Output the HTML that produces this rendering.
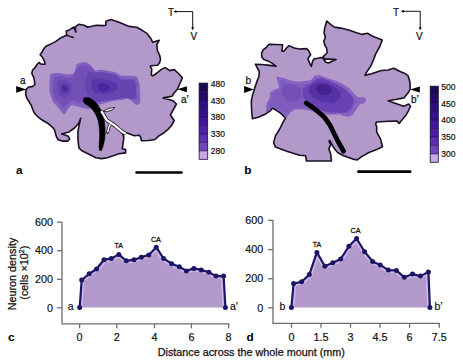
<!DOCTYPE html>
<html><head><meta charset="utf-8"><title>Neuron density maps</title><style>
html,body{margin:0;padding:0;background:#fff;}
body{width:463px;height:363px;overflow:hidden;}
svg{display:block;font-family:"Liberation Sans",sans-serif;}
.tk{font-size:10.8px;fill:#111;stroke:#111;stroke-width:0.2px;}
.lb{font-size:10.5px;fill:#111;stroke:#111;stroke-width:0.2px;}
.pk{font-size:8px;fill:#111;stroke:#111;stroke-width:0.3px;}
.pl{font-size:11.8px;font-weight:bold;fill:#000;}
.al{font-size:10px;fill:#111;stroke:#111;stroke-width:0.25px;}
.cp{font-size:10px;fill:#111;stroke:#111;stroke-width:0.2px;}
.cb{font-size:8.5px;fill:#111;stroke:#111;stroke-width:0.2px;}
.xt{font-size:10.8px;fill:#111;stroke:#111;stroke-width:0.25px;}
</style></head>
<body>
<svg width="463" height="363" viewBox="0 0 463 363">
<defs><filter id="bl" x="-10%" y="-10%" width="120%" height="120%"><feGaussianBlur stdDeviation="0.7"/></filter></defs>
<rect width="463" height="363" fill="#fff"/>
<polygon points="26.2,89.4 28.3,87.3 32.6,86.4 34.8,84.7 34.4,80.4 33.5,76.9 31.8,73.5 32.6,70.0 34.6,68.1 36.8,64.8 39.0,62.5 41.2,64.2 45.1,64.2 44.5,61.4 42.3,57.0 40.1,54.8 41.8,52.6 43.4,49.3 46.2,46.0 50.0,44.4 55.5,41.6 60.0,38.3 66.6,35.2 66.3,30.9 69.3,29.9 73.6,27.1 75.9,32.1 75.2,27.0 78.7,24.3 84.2,25.2 87.6,27.3 96.3,25.2 103.2,25.6 105.8,25.2 105.8,21.2 111.0,19.5 119.6,22.4 129.1,26.4 136.6,27.2 142.1,30.3 146.5,33.1 150.9,38.5 152.6,42.2 159.3,40.2 156.8,44.5 157.5,50.8 159.6,55.0 160.5,59.4 159.6,62.8 157.6,65.2 150.8,65.7 150.3,66.7 151.8,69.1 151.3,74.9 152.8,75.9 157.6,72.5 161.0,69.6 164.9,67.6 166.9,68.6 169.8,70.6 174.2,69.6 178.0,73.0 182.4,77.8 180.0,83.2 177.4,89.3 173.7,93.5 172.0,96.3 163.2,97.9 170.9,100.1 173.7,101.2 176.4,104.0 173.1,110.0 170.4,115.0 174.2,120.5 171.5,125.5 168.0,129.4 164.1,132.7 158.9,135.9 155.0,139.5 148.5,140.5 141.4,140.8 140.7,137.2 139.4,135.3 134.3,135.7 127.8,133.3 124.5,132.2 122.5,133.6 123.9,137.2 123.1,143.0 122.3,148.8 125.6,149.6 125.6,152.9 118.9,153.8 107.3,157.7 101.6,158.6 95.8,157.7 90.0,154.8 81.8,150.8 78.9,147.9 78.0,140.0 78.0,130.8 79.4,123.9 80.7,118.4 78.7,123.2 74.5,128.0 69.0,131.9 61.5,133.9 64.9,134.9 68.3,136.3 69.7,139.0 67.7,141.1 62.2,141.1 58.0,139.7 56.0,135.6 54.6,130.1 52.5,127.3 47.7,123.2 42.9,120.5 38.8,117.7 35.3,114.3 33.3,110.8 31.2,105.3 28.4,100.5 27.9,100.0 26.6,97.6 25.7,94.2" fill="#b399c9"/>
<clipPath id="ca"><polygon points="26.2,89.4 28.3,87.3 32.6,86.4 34.8,84.7 34.4,80.4 33.5,76.9 31.8,73.5 32.6,70.0 34.6,68.1 36.8,64.8 39.0,62.5 41.2,64.2 45.1,64.2 44.5,61.4 42.3,57.0 40.1,54.8 41.8,52.6 43.4,49.3 46.2,46.0 50.0,44.4 55.5,41.6 60.0,38.3 66.6,35.2 66.3,30.9 69.3,29.9 73.6,27.1 75.9,32.1 75.2,27.0 78.7,24.3 84.2,25.2 87.6,27.3 96.3,25.2 103.2,25.6 105.8,25.2 105.8,21.2 111.0,19.5 119.6,22.4 129.1,26.4 136.6,27.2 142.1,30.3 146.5,33.1 150.9,38.5 152.6,42.2 159.3,40.2 156.8,44.5 157.5,50.8 159.6,55.0 160.5,59.4 159.6,62.8 157.6,65.2 150.8,65.7 150.3,66.7 151.8,69.1 151.3,74.9 152.8,75.9 157.6,72.5 161.0,69.6 164.9,67.6 166.9,68.6 169.8,70.6 174.2,69.6 178.0,73.0 182.4,77.8 180.0,83.2 177.4,89.3 173.7,93.5 172.0,96.3 163.2,97.9 170.9,100.1 173.7,101.2 176.4,104.0 173.1,110.0 170.4,115.0 174.2,120.5 171.5,125.5 168.0,129.4 164.1,132.7 158.9,135.9 155.0,139.5 148.5,140.5 141.4,140.8 140.7,137.2 139.4,135.3 134.3,135.7 127.8,133.3 124.5,132.2 122.5,133.6 123.9,137.2 123.1,143.0 122.3,148.8 125.6,149.6 125.6,152.9 118.9,153.8 107.3,157.7 101.6,158.6 95.8,157.7 90.0,154.8 81.8,150.8 78.9,147.9 78.0,140.0 78.0,130.8 79.4,123.9 80.7,118.4 78.7,123.2 74.5,128.0 69.0,131.9 61.5,133.9 64.9,134.9 68.3,136.3 69.7,139.0 67.7,141.1 62.2,141.1 58.0,139.7 56.0,135.6 54.6,130.1 52.5,127.3 47.7,123.2 42.9,120.5 38.8,117.7 35.3,114.3 33.3,110.8 31.2,105.3 28.4,100.5 27.9,100.0 26.6,97.6 25.7,94.2"/></clipPath><g clip-path="url(#ca)"><g filter="url(#bl)">
<polygon points="50.4,74.0 58.0,72.7 66.6,74.4 73.1,74.0 75.2,70.1 76.3,64.7 80.6,62.6 85.6,62.1 90.4,64.7 94.7,70.1 96.1,70.5 101.1,69.8 109.5,71.2 115.1,71.9 120.7,75.4 127.7,75.7 134.8,76.1 137.6,77.5 139.7,84.6 139.8,88.2 140.4,101.2 139.3,103.9 136.0,105.0 130.6,100.1 127.4,98.5 122.0,100.1 113.4,100.7 108.0,102.3 101.5,103.9 96.0,105.5 93.0,108.0 88.0,109.0 82.0,107.8 76.6,106.2 71.2,105.1 68.0,108.9 64.8,114.6 63.6,114.6 59.3,108.9 55.0,104.0 52.6,101.4 49.8,92.8 49.3,83.1" fill="#8262c0"/>
<polygon points="54.0,77.0 62.0,76.0 68.0,78.0 73.0,77.0 76.0,70.0 80.0,66.0 86.0,65.5 91.0,68.0 96.0,73.0 102.0,73.0 110.0,74.0 116.0,75.0 121.0,78.5 129.0,79.0 135.0,79.5 137.0,85.0 136.5,91.0 137.5,99.0 133.0,99.5 127.0,96.0 121.0,95.5 111.0,96.0 102.0,98.5 96.0,101.0 90.0,103.0 85.0,100.5 80.0,102.5 74.0,100.5 70.0,101.5 66.0,106.0 62.5,108.0 59.0,103.0 54.5,98.0 52.5,91.0 52.5,83.0" fill="#7450b8"/>
<polygon points="58.0,81.0 65.0,80.0 71.0,83.0 72.0,89.0 70.0,95.0 65.0,98.0 60.0,96.0 57.0,90.0" fill="#6644b0"/>
<polygon points="88.0,72.0 96.0,72.5 103.0,72.0 110.0,73.5 117.0,76.0 121.0,80.0 128.0,80.0 134.0,80.0 136.0,86.0 135.5,95.0 133.0,99.5 126.0,98.0 118.0,99.0 110.0,100.0 102.0,101.5 95.0,102.5 89.0,100.0 86.0,92.0 85.0,82.0" fill="#6644b0"/>
<polygon points="61.0,85.0 65.0,84.0 68.5,86.0 69.0,90.0 66.5,93.0 63.0,93.0 60.5,90.0" fill="#5834a8"/>
<polygon points="92.0,80.0 100.0,78.5 108.0,80.0 116.0,83.0 118.0,88.0 113.0,92.0 104.0,94.0 96.0,93.0 91.0,88.0" fill="#5834a8"/>
<polygon points="63.0,87.0 66.0,86.5 67.5,89.0 65.5,91.0 63.5,90.5" fill="#4a26a0"/>
<polygon points="98.0,84.0 104.0,83.0 110.0,85.5 109.0,90.0 103.0,91.5 98.0,89.5" fill="#4a26a0"/>
</g></g>
<polygon points="26.2,89.4 28.3,87.3 32.6,86.4 34.8,84.7 34.4,80.4 33.5,76.9 31.8,73.5 32.6,70.0 34.6,68.1 36.8,64.8 39.0,62.5 41.2,64.2 45.1,64.2 44.5,61.4 42.3,57.0 40.1,54.8 41.8,52.6 43.4,49.3 46.2,46.0 50.0,44.4 55.5,41.6 60.0,38.3 66.6,35.2 66.3,30.9 69.3,29.9 73.6,27.1 75.9,32.1 75.2,27.0 78.7,24.3 84.2,25.2 87.6,27.3 96.3,25.2 103.2,25.6 105.8,25.2 105.8,21.2 111.0,19.5 119.6,22.4 129.1,26.4 136.6,27.2 142.1,30.3 146.5,33.1 150.9,38.5 152.6,42.2 159.3,40.2 156.8,44.5 157.5,50.8 159.6,55.0 160.5,59.4 159.6,62.8 157.6,65.2 150.8,65.7 150.3,66.7 151.8,69.1 151.3,74.9 152.8,75.9 157.6,72.5 161.0,69.6 164.9,67.6 166.9,68.6 169.8,70.6 174.2,69.6 178.0,73.0 182.4,77.8 180.0,83.2 177.4,89.3 173.7,93.5 172.0,96.3 163.2,97.9 170.9,100.1 173.7,101.2 176.4,104.0 173.1,110.0 170.4,115.0 174.2,120.5 171.5,125.5 168.0,129.4 164.1,132.7 158.9,135.9 155.0,139.5 148.5,140.5 141.4,140.8 140.7,137.2 139.4,135.3 134.3,135.7 127.8,133.3 124.5,132.2 122.5,133.6 123.9,137.2 123.1,143.0 122.3,148.8 125.6,149.6 125.6,152.9 118.9,153.8 107.3,157.7 101.6,158.6 95.8,157.7 90.0,154.8 81.8,150.8 78.9,147.9 78.0,140.0 78.0,130.8 79.4,123.9 80.7,118.4 78.7,123.2 74.5,128.0 69.0,131.9 61.5,133.9 64.9,134.9 68.3,136.3 69.7,139.0 67.7,141.1 62.2,141.1 58.0,139.7 56.0,135.6 54.6,130.1 52.5,127.3 47.7,123.2 42.9,120.5 38.8,117.7 35.3,114.3 33.3,110.8 31.2,105.3 28.4,100.5 27.9,100.0 26.6,97.6 25.7,94.2" fill="none" stroke="#1a1024" stroke-width="1.6" stroke-linejoin="round"/>
<path d="M66.4,35.1 L73.2,37.5" stroke="#1a1024" stroke-width="1.5" stroke-linecap="round"/>
<polygon points="84.0,97.8 88.0,97.6 92.0,99.2 95.5,102.0 98.5,106.0 101.0,110.0 102.8,115.0 104.3,121.0 105.0,127.0 105.2,133.0 104.6,140.0 103.2,146.0 101.5,150.5 99.4,150.5 99.0,146.0 99.4,140.0 99.6,133.0 99.2,127.0 98.2,121.0 96.6,116.5 94.5,112.5 91.5,108.5 88.0,105.5 84.8,103.8 83.4,101.5 83.2,99.5" fill="#000" stroke="#000" stroke-width="0.5" stroke-linejoin="round"/>
<path d="M101.2,111.2 L103.2,114 L105,117.5 L107.2,120.6 L110.8,122.8 L114.6,125.4 L118.2,128.4 L122,131.6 L125.8,133.8" fill="none" stroke="#1a1024" stroke-width="3.8" stroke-linejoin="round"/>
<path d="M110.5,123.5 L108.6,127.8 L107.6,132.4" fill="none" stroke="#1a1024" stroke-width="2.9" stroke-linecap="round"/>
<path d="M101.2,111.2 L103.2,114 L105,117.5 L107.2,120.6 L110.8,122.8 L114.6,125.4 L118.2,128.4 L122,131.6 L125.8,133.8" fill="none" stroke="#fff" stroke-width="2.2" stroke-linejoin="round"/>
<path d="M110.3,124 L108.6,127.8 L107.8,131.8" fill="none" stroke="#fff" stroke-width="1.5" stroke-linecap="round"/>
<path d="M103,111.6 C106,109 110,107.6 114.8,107.6 C112,110.8 107.5,112 103,111.6 Z" fill="#fff" stroke="#1a1024" stroke-width="0.9"/>
<polygon points="254.1,89.9 257.4,80.0 259.0,76.5 259.3,71.3 257.3,68.0 255.4,64.2 261.8,64.5 267.7,65.1 276.1,66.1 271.6,62.9 267.7,60.9 263.8,59.6 261.8,57.0 261.6,53.1 263.1,49.9 265.7,48.0 269.0,44.3 282.6,44.7 281.9,51.2 283.9,51.2 286.5,48.0 289.1,45.6 294.2,48.0 299.4,49.0 306.5,48.6 308.6,50.6 310.6,54.8 307.9,58.9 309.3,62.3 311.3,66.5 312.7,61.0 314.1,58.9 318.2,58.2 321.0,57.5 323.0,58.2 325.8,62.3 328.5,63.0 336.1,59.6 324.4,58.9 323.0,56.8 325.1,54.8 327.2,52.7 326.5,47.9 324.7,45.0 323.8,41.1 325.4,37.2 324.1,32.7 324.7,28.1 326.7,21.0 330.6,24.3 334.4,27.1 340.9,28.1 348.7,30.1 356.5,32.7 362.3,34.4 367.5,33.3 373.2,36.6 382.3,39.9 379.8,46.5 375.7,53.9 373.2,60.5 370.7,66.3 366.6,72.1 364.9,75.4 371.5,73.8 381.4,70.5 388.1,70.0 393.8,68.3 399.6,71.3 405.4,73.8 407.9,75.4 409.5,80.4 410.1,84.1 410.1,89.4 407.4,93.8 403.9,97.9 397.0,99.3 388.1,100.7 395.7,103.4 403.9,106.2 408.7,104.1 410.5,106.2 408.7,110.3 406.0,115.1 401.9,119.9 399.1,123.4 397.0,121.0 388.8,121.3 376.4,122.0 375.7,124.1 376.7,126.8 376.7,132.1 380.5,138.9 382.5,146.7 376.7,149.6 368.9,152.5 362.1,156.4 357.2,159.9 353.3,159.3 350.0,158.0 343.0,155.5 337.6,152.5 335.5,150.0 333.0,146.5 331.0,142.6 329.8,140.4 328.9,141.1 330.7,144.6 328.9,148.9 330.7,154.1 331.5,161.0 306.5,161.0 305.6,155.8 299.6,155.3 287.5,151.5 275.4,147.1 273.6,142.8 275.4,135.9 279.7,129.0 283.1,122.1 285.5,118.0 280.5,113.1 275.6,109.8 272.3,108.1 270.6,110.6 265.7,113.9 258.2,117.2 252.4,118.8 251.6,109.8 251.3,101.5 252.4,95.7" fill="#b399c9"/>
<clipPath id="cbb"><polygon points="254.1,89.9 257.4,80.0 259.0,76.5 259.3,71.3 257.3,68.0 255.4,64.2 261.8,64.5 267.7,65.1 276.1,66.1 271.6,62.9 267.7,60.9 263.8,59.6 261.8,57.0 261.6,53.1 263.1,49.9 265.7,48.0 269.0,44.3 282.6,44.7 281.9,51.2 283.9,51.2 286.5,48.0 289.1,45.6 294.2,48.0 299.4,49.0 306.5,48.6 308.6,50.6 310.6,54.8 307.9,58.9 309.3,62.3 311.3,66.5 312.7,61.0 314.1,58.9 318.2,58.2 321.0,57.5 323.0,58.2 325.8,62.3 328.5,63.0 336.1,59.6 324.4,58.9 323.0,56.8 325.1,54.8 327.2,52.7 326.5,47.9 324.7,45.0 323.8,41.1 325.4,37.2 324.1,32.7 324.7,28.1 326.7,21.0 330.6,24.3 334.4,27.1 340.9,28.1 348.7,30.1 356.5,32.7 362.3,34.4 367.5,33.3 373.2,36.6 382.3,39.9 379.8,46.5 375.7,53.9 373.2,60.5 370.7,66.3 366.6,72.1 364.9,75.4 371.5,73.8 381.4,70.5 388.1,70.0 393.8,68.3 399.6,71.3 405.4,73.8 407.9,75.4 409.5,80.4 410.1,84.1 410.1,89.4 407.4,93.8 403.9,97.9 397.0,99.3 388.1,100.7 395.7,103.4 403.9,106.2 408.7,104.1 410.5,106.2 408.7,110.3 406.0,115.1 401.9,119.9 399.1,123.4 397.0,121.0 388.8,121.3 376.4,122.0 375.7,124.1 376.7,126.8 376.7,132.1 380.5,138.9 382.5,146.7 376.7,149.6 368.9,152.5 362.1,156.4 357.2,159.9 353.3,159.3 350.0,158.0 343.0,155.5 337.6,152.5 335.5,150.0 333.0,146.5 331.0,142.6 329.8,140.4 328.9,141.1 330.7,144.6 328.9,148.9 330.7,154.1 331.5,161.0 306.5,161.0 305.6,155.8 299.6,155.3 287.5,151.5 275.4,147.1 273.6,142.8 275.4,135.9 279.7,129.0 283.1,122.1 285.5,118.0 280.5,113.1 275.6,109.8 272.3,108.1 270.6,110.6 265.7,113.9 258.2,117.2 252.4,118.8 251.6,109.8 251.3,101.5 252.4,95.7"/></clipPath><g clip-path="url(#cbb)"><g filter="url(#bl)">
<polygon points="276.2,76.4 283.8,77.9 289.8,80.2 297.4,81.7 305.0,80.9 311.2,79.7 314.4,75.7 319.3,74.9 327.4,78.1 337.1,81.3 343.6,84.6 348.5,87.8 353.3,92.7 356.6,95.9 359.8,97.5 363.0,96.7 366.3,99.2 364.7,103.2 359.8,104.0 356.6,108.9 353.3,114.5 348.5,117.0 342.0,115.4 340.0,114.5 328.7,114.8 318.0,112.5 308.8,110.4 305.2,109.5 300.9,109.3 294.4,109.8 290.1,113.0 286.8,117.4 283.6,115.2 278.2,110.9 272.3,108.2 268.5,113.0 265.8,110.9 266.3,106.0 266.9,102.8 269.6,98.5 270.1,92.0 273.2,90.0 279.2,87.7 277.7,81.7" fill="#8864c2"/>
<polygon points="279.0,80.0 284.0,80.5 290.0,83.0 297.5,84.5 305.5,84.0 312.5,82.5 316.0,78.5 319.5,78.0 327.0,81.0 336.5,84.5 342.5,87.5 347.0,90.5 351.5,95.0 355.0,99.0 359.5,100.5 361.5,101.0 357.5,101.5 354.0,106.5 350.5,112.0 347.5,114.0 340.0,112.0 329.0,112.0 318.0,110.0 309.0,108.0 304.0,106.5 300.0,107.0 294.0,107.5 289.5,110.5 286.5,113.5 283.5,112.0 278.0,108.5 272.5,106.0 269.0,108.0 268.5,105.0 269.5,102.0 272.0,98.5 272.8,93.0 275.0,91.5 281.5,88.5 280.5,83.0" fill="#7e5cbe"/>
<polygon points="283.0,86.0 292.0,84.0 300.0,88.0 302.0,96.0 296.0,102.0 287.0,101.0 282.0,94.0" fill="#7450b6"/>
<polygon points="303.0,88.0 310.0,84.0 316.0,79.0 322.0,78.0 330.0,81.0 338.0,85.0 345.0,89.0 351.0,95.0 354.0,100.0 352.0,107.0 347.0,112.0 340.0,113.0 330.0,112.5 322.0,111.0 314.0,106.0 308.0,102.0 303.0,97.0" fill="#6842b2"/>
<polygon points="310.0,86.0 318.0,82.0 327.0,83.0 335.0,87.0 341.0,92.0 340.0,99.0 333.0,103.0 322.0,102.0 313.0,98.0 308.0,92.0" fill="#5632a6"/>
<polygon points="318.0,85.0 325.0,84.0 331.0,87.0 332.0,92.0 327.0,95.0 320.0,94.0 316.0,90.0" fill="#44228f"/>
</g></g>
<polygon points="254.1,89.9 257.4,80.0 259.0,76.5 259.3,71.3 257.3,68.0 255.4,64.2 261.8,64.5 267.7,65.1 276.1,66.1 271.6,62.9 267.7,60.9 263.8,59.6 261.8,57.0 261.6,53.1 263.1,49.9 265.7,48.0 269.0,44.3 282.6,44.7 281.9,51.2 283.9,51.2 286.5,48.0 289.1,45.6 294.2,48.0 299.4,49.0 306.5,48.6 308.6,50.6 310.6,54.8 307.9,58.9 309.3,62.3 311.3,66.5 312.7,61.0 314.1,58.9 318.2,58.2 321.0,57.5 323.0,58.2 325.8,62.3 328.5,63.0 336.1,59.6 324.4,58.9 323.0,56.8 325.1,54.8 327.2,52.7 326.5,47.9 324.7,45.0 323.8,41.1 325.4,37.2 324.1,32.7 324.7,28.1 326.7,21.0 330.6,24.3 334.4,27.1 340.9,28.1 348.7,30.1 356.5,32.7 362.3,34.4 367.5,33.3 373.2,36.6 382.3,39.9 379.8,46.5 375.7,53.9 373.2,60.5 370.7,66.3 366.6,72.1 364.9,75.4 371.5,73.8 381.4,70.5 388.1,70.0 393.8,68.3 399.6,71.3 405.4,73.8 407.9,75.4 409.5,80.4 410.1,84.1 410.1,89.4 407.4,93.8 403.9,97.9 397.0,99.3 388.1,100.7 395.7,103.4 403.9,106.2 408.7,104.1 410.5,106.2 408.7,110.3 406.0,115.1 401.9,119.9 399.1,123.4 397.0,121.0 388.8,121.3 376.4,122.0 375.7,124.1 376.7,126.8 376.7,132.1 380.5,138.9 382.5,146.7 376.7,149.6 368.9,152.5 362.1,156.4 357.2,159.9 353.3,159.3 350.0,158.0 343.0,155.5 337.6,152.5 335.5,150.0 333.0,146.5 331.0,142.6 329.8,140.4 328.9,141.1 330.7,144.6 328.9,148.9 330.7,154.1 331.5,161.0 306.5,161.0 305.6,155.8 299.6,155.3 287.5,151.5 275.4,147.1 273.6,142.8 275.4,135.9 279.7,129.0 283.1,122.1 285.5,118.0 280.5,113.1 275.6,109.8 272.3,108.1 270.6,110.6 265.7,113.9 258.2,117.2 252.4,118.8 251.6,109.8 251.3,101.5 252.4,95.7" fill="none" stroke="#1a1024" stroke-width="1.6" stroke-linejoin="round"/>
<path d="M306.3,103 Q312,106.8 316.5,110.4 L324.2,117 L329.8,124.8 L333.6,132.5 L337.2,139.8 L340.6,146 L343.6,151.2" fill="none" stroke="#000" stroke-width="4.8" stroke-linecap="round" stroke-linejoin="round"/>
<polygon points="26.2,89.4 16.2,86.0 16.2,92.80000000000001" fill="#000"/>
<polygon points="177.4,89.3 186.9,86.3 186.9,92.3" fill="#000"/>
<polygon points="253.9,89.5 244.1,86.0 244.1,93.0" fill="#000"/>
<polygon points="410.1,89.4 419.8,86.4 419.8,92.4" fill="#000"/>
<text x="19.9" y="84.2" class="al">a</text>
<text x="180.9" y="102.9" class="al">a’</text>
<text x="245.4" y="83.9" class="al">b</text>
<text x="410.9" y="102.8" class="al">b’</text>
<text x="167.9" y="15.5" class="cp">T</text>
<path d="M174.9,11.6 H192.7 V28.8" fill="none" stroke="#111" stroke-width="1"/>
<polygon points="173.4,11.6 176.4,10.1 176.4,13.1" fill="#111"/>
<polygon points="192.7,30.3 191.2,27.2 194.2,27.2" fill="#111"/>
<text x="193.89999999999998" y="39.7" text-anchor="middle" class="cp">V</text>
<text x="393.0" y="15.5" class="cp">T</text>
<path d="M402.3,11.3 H420.2 V28.8" fill="none" stroke="#111" stroke-width="1"/>
<polygon points="400.8,11.3 403.8,9.8 403.8,12.8" fill="#111"/>
<polygon points="420.2,30.3 418.7,27.2 421.7,27.2" fill="#111"/>
<text x="419.4" y="39.7" text-anchor="middle" class="cp">V</text>
<rect x="199.1" y="83.10" width="8.6" height="8.57" fill="#1a0850"/>
<rect x="199.1" y="91.57" width="8.6" height="8.57" fill="#220a68"/>
<rect x="199.1" y="100.03" width="8.6" height="8.57" fill="#2c0c80"/>
<rect x="199.1" y="108.50" width="8.6" height="8.57" fill="#36108e"/>
<rect x="199.1" y="116.97" width="8.6" height="8.57" fill="#42169c"/>
<rect x="199.1" y="125.43" width="8.6" height="8.57" fill="#4e20a6"/>
<rect x="199.1" y="133.90" width="8.6" height="8.57" fill="#5e2eb0"/>
<rect x="199.1" y="142.37" width="8.6" height="8.57" fill="#7444bc"/>
<rect x="199.1" y="150.83" width="8.6" height="8.57" fill="#c9a9e7"/>
<line x1="199.1" y1="91.57" x2="207.7" y2="91.57" stroke="#1a0838" stroke-width="0.9" opacity="0.75"/>
<line x1="199.1" y1="100.03" x2="207.7" y2="100.03" stroke="#1a0838" stroke-width="0.9" opacity="0.75"/>
<line x1="199.1" y1="108.50" x2="207.7" y2="108.50" stroke="#1a0838" stroke-width="0.9" opacity="0.75"/>
<line x1="199.1" y1="116.97" x2="207.7" y2="116.97" stroke="#1a0838" stroke-width="0.9" opacity="0.75"/>
<line x1="199.1" y1="125.43" x2="207.7" y2="125.43" stroke="#1a0838" stroke-width="0.9" opacity="0.75"/>
<line x1="199.1" y1="133.90" x2="207.7" y2="133.90" stroke="#1a0838" stroke-width="0.9" opacity="0.75"/>
<line x1="199.1" y1="142.37" x2="207.7" y2="142.37" stroke="#1a0838" stroke-width="0.9" opacity="0.75"/>
<line x1="199.1" y1="150.83" x2="207.7" y2="150.83" stroke="#1a0838" stroke-width="0.9" opacity="0.75"/>
<rect x="199.1" y="83.1" width="8.6" height="76.20000000000002" fill="none" stroke="#1a0d3a" stroke-width="0.8"/>
<text x="210.8" y="87.0" class="cb">480</text>
<text x="210.8" y="103.7" class="cb">430</text>
<text x="210.8" y="120.4" class="cb">380</text>
<text x="210.8" y="137.2" class="cb">330</text>
<text x="210.8" y="153.9" class="cb">280</text>
<rect x="430.2" y="86.20" width="8.1" height="8.56" fill="#1a0850"/>
<rect x="430.2" y="94.66" width="8.1" height="8.56" fill="#220a68"/>
<rect x="430.2" y="103.11" width="8.1" height="8.56" fill="#2c0c80"/>
<rect x="430.2" y="111.57" width="8.1" height="8.56" fill="#36108e"/>
<rect x="430.2" y="120.02" width="8.1" height="8.56" fill="#42169c"/>
<rect x="430.2" y="128.48" width="8.1" height="8.56" fill="#4e20a6"/>
<rect x="430.2" y="136.93" width="8.1" height="8.56" fill="#5e2eb0"/>
<rect x="430.2" y="145.39" width="8.1" height="8.56" fill="#7444bc"/>
<rect x="430.2" y="153.84" width="8.1" height="8.56" fill="#c9a9e7"/>
<line x1="430.2" y1="94.66" x2="438.3" y2="94.66" stroke="#1a0838" stroke-width="0.9" opacity="0.75"/>
<line x1="430.2" y1="103.11" x2="438.3" y2="103.11" stroke="#1a0838" stroke-width="0.9" opacity="0.75"/>
<line x1="430.2" y1="111.57" x2="438.3" y2="111.57" stroke="#1a0838" stroke-width="0.9" opacity="0.75"/>
<line x1="430.2" y1="120.02" x2="438.3" y2="120.02" stroke="#1a0838" stroke-width="0.9" opacity="0.75"/>
<line x1="430.2" y1="128.48" x2="438.3" y2="128.48" stroke="#1a0838" stroke-width="0.9" opacity="0.75"/>
<line x1="430.2" y1="136.93" x2="438.3" y2="136.93" stroke="#1a0838" stroke-width="0.9" opacity="0.75"/>
<line x1="430.2" y1="145.39" x2="438.3" y2="145.39" stroke="#1a0838" stroke-width="0.9" opacity="0.75"/>
<line x1="430.2" y1="153.84" x2="438.3" y2="153.84" stroke="#1a0838" stroke-width="0.9" opacity="0.75"/>
<rect x="430.2" y="86.2" width="8.1" height="76.10000000000001" fill="none" stroke="#1a0d3a" stroke-width="0.8"/>
<text x="441.3" y="90.1" class="cb">500</text>
<text x="441.3" y="106.7" class="cb">450</text>
<text x="441.3" y="123.3" class="cb">400</text>
<text x="441.3" y="140.0" class="cb">350</text>
<text x="441.3" y="156.7" class="cb">300</text>
<text x="16" y="174.2" class="pl">a</text>
<text x="244.2" y="174" class="pl">b</text>
<line x1="136.6" y1="172.5" x2="181.5" y2="172.5" stroke="#000" stroke-width="2.7" stroke-linecap="round"/>
<line x1="358.4" y1="171.7" x2="410.2" y2="171.7" stroke="#000" stroke-width="2.7" stroke-linecap="round"/>
<clipPath id="clipc"><polygon points="79.7,307.4 81.7,280.0 89.2,273.8 96.5,269.0 104.0,259.7 111.3,258.6 118.8,254.4 126.3,260.8 134.0,259.7 141.3,257.3 148.8,254.9 156.2,247.2 163.6,258.5 171.6,263.7 179.3,266.7 186.4,270.9 193.9,268.4 201.3,269.9 208.8,272.2 216.0,276.1 223.6,276.1 225.4,307.6"/></clipPath>
<polygon points="79.7,307.4 81.7,280.0 89.2,273.8 96.5,269.0 104.0,259.7 111.3,258.6 118.8,254.4 126.3,260.8 134.0,259.7 141.3,257.3 148.8,254.9 156.2,247.2 163.6,258.5 171.6,263.7 179.3,266.7 186.4,270.9 193.9,268.4 201.3,269.9 208.8,272.2 216.0,276.1 223.6,276.1 225.4,307.6" fill="#b49acc"/>
<path d="M62,222.1 V323.8 H229.5" fill="none" stroke="#6e6e6e" stroke-width="1.3"/>
<line x1="57" y1="222.1" x2="62" y2="222.1" stroke="#6e6e6e" stroke-width="1.3"/>
<text x="53" y="225.79999999999998" text-anchor="end" class="tk">600</text>
<line x1="57" y1="250.7" x2="62" y2="250.7" stroke="#6e6e6e" stroke-width="1.3"/>
<text x="53" y="254.39999999999998" text-anchor="end" class="tk">400</text>
<line x1="57" y1="279.3" x2="62" y2="279.3" stroke="#6e6e6e" stroke-width="1.3"/>
<text x="53" y="283.0" text-anchor="end" class="tk">200</text>
<line x1="57" y1="307.8" x2="62" y2="307.8" stroke="#6e6e6e" stroke-width="1.3"/>
<text x="53" y="311.5" text-anchor="end" class="tk">0</text>
<line x1="79.6" y1="323.8" x2="79.6" y2="328.3" stroke="#6e6e6e" stroke-width="1.3"/>
<text x="79.6" y="341.1" text-anchor="middle" class="tk">0</text>
<line x1="116.8" y1="323.8" x2="116.8" y2="328.3" stroke="#6e6e6e" stroke-width="1.3"/>
<text x="116.8" y="341.1" text-anchor="middle" class="tk">2</text>
<line x1="154.5" y1="323.8" x2="154.5" y2="328.3" stroke="#6e6e6e" stroke-width="1.3"/>
<text x="154.5" y="341.1" text-anchor="middle" class="tk">4</text>
<line x1="191.4" y1="323.8" x2="191.4" y2="328.3" stroke="#6e6e6e" stroke-width="1.3"/>
<text x="191.4" y="341.1" text-anchor="middle" class="tk">6</text>
<line x1="228.6" y1="323.8" x2="228.6" y2="328.3" stroke="#6e6e6e" stroke-width="1.3"/>
<text x="228.6" y="341.1" text-anchor="middle" class="tk">8</text>
<polyline points="79.7,307.4 81.7,280.0 89.2,273.8 96.5,269.0 104.0,259.7 111.3,258.6 118.8,254.4 126.3,260.8 134.0,259.7 141.3,257.3 148.8,254.9 156.2,247.2 163.6,258.5 171.6,263.7 179.3,266.7 186.4,270.9 193.9,268.4 201.3,269.9 208.8,272.2 216.0,276.1 223.6,276.1 225.4,307.6" fill="none" stroke="#cdbbe0" stroke-width="5.5" stroke-linejoin="round" clip-path="url(#clipc)"/>
<polyline points="79.7,307.4 81.7,280.0 89.2,273.8 96.5,269.0 104.0,259.7 111.3,258.6 118.8,254.4 126.3,260.8 134.0,259.7 141.3,257.3 148.8,254.9 156.2,247.2 163.6,258.5 171.6,263.7 179.3,266.7 186.4,270.9 193.9,268.4 201.3,269.9 208.8,272.2 216.0,276.1 223.6,276.1 225.4,307.6" fill="none" stroke="#1c1466" stroke-width="2.2" stroke-linejoin="round"/>
<circle cx="79.7" cy="307.4" r="2.5" fill="#1c1466"/>
<circle cx="81.7" cy="280.0" r="2.5" fill="#1c1466"/>
<circle cx="89.2" cy="273.8" r="2.5" fill="#1c1466"/>
<circle cx="96.5" cy="269.0" r="2.5" fill="#1c1466"/>
<circle cx="104.0" cy="259.7" r="2.5" fill="#1c1466"/>
<circle cx="111.3" cy="258.6" r="2.5" fill="#1c1466"/>
<circle cx="118.8" cy="254.4" r="2.5" fill="#1c1466"/>
<circle cx="126.3" cy="260.8" r="2.5" fill="#1c1466"/>
<circle cx="134.0" cy="259.7" r="2.5" fill="#1c1466"/>
<circle cx="141.3" cy="257.3" r="2.5" fill="#1c1466"/>
<circle cx="148.8" cy="254.9" r="2.5" fill="#1c1466"/>
<circle cx="156.2" cy="247.2" r="2.5" fill="#1c1466"/>
<circle cx="163.6" cy="258.5" r="2.5" fill="#1c1466"/>
<circle cx="171.6" cy="263.7" r="2.5" fill="#1c1466"/>
<circle cx="179.3" cy="266.7" r="2.5" fill="#1c1466"/>
<circle cx="186.4" cy="270.9" r="2.5" fill="#1c1466"/>
<circle cx="193.9" cy="268.4" r="2.5" fill="#1c1466"/>
<circle cx="201.3" cy="269.9" r="2.5" fill="#1c1466"/>
<circle cx="208.8" cy="272.2" r="2.5" fill="#1c1466"/>
<circle cx="216.0" cy="276.1" r="2.5" fill="#1c1466"/>
<circle cx="223.6" cy="276.1" r="2.5" fill="#1c1466"/>
<circle cx="225.4" cy="307.6" r="2.5" fill="#1c1466"/>
<text x="73.7" y="309.9" text-anchor="end" class="lb">a</text>
<text x="229.9" y="310.1" class="lb">a’</text>
<text x="114.39999999999999" y="248.3" class="pk" textLength="8.4" lengthAdjust="spacingAndGlyphs">TA</text>
<text x="150.9" y="241.8" class="pk" textLength="10" lengthAdjust="spacingAndGlyphs">CA</text>
<clipPath id="clipd"><polygon points="291.4,307.5 293.6,283.5 301.6,281.8 309.3,274.6 316.9,252.4 324.9,266.2 332.8,262.7 340.7,259.0 348.9,246.3 356.6,238.5 364.6,251.8 372.6,261.4 380.2,264.9 388.4,270.1 396.4,270.4 404.3,277.3 412.5,274.1 420.4,276.1 428.4,271.9 429.9,307.6"/></clipPath>
<polygon points="291.4,307.5 293.6,283.5 301.6,281.8 309.3,274.6 316.9,252.4 324.9,266.2 332.8,262.7 340.7,259.0 348.9,246.3 356.6,238.5 364.6,251.8 372.6,261.4 380.2,264.9 388.4,270.1 396.4,270.4 404.3,277.3 412.5,274.1 420.4,276.1 428.4,271.9 429.9,307.6" fill="#b49acc"/>
<path d="M273,220.3 V323.3 H439.8" fill="none" stroke="#6e6e6e" stroke-width="1.3"/>
<line x1="268" y1="220.3" x2="273" y2="220.3" stroke="#6e6e6e" stroke-width="1.3"/>
<text x="263.2" y="224.0" text-anchor="end" class="tk">600</text>
<line x1="268" y1="249.6" x2="273" y2="249.6" stroke="#6e6e6e" stroke-width="1.3"/>
<text x="263.2" y="253.29999999999998" text-anchor="end" class="tk">400</text>
<line x1="268" y1="278.7" x2="273" y2="278.7" stroke="#6e6e6e" stroke-width="1.3"/>
<text x="263.2" y="282.4" text-anchor="end" class="tk">200</text>
<line x1="268" y1="307.8" x2="273" y2="307.8" stroke="#6e6e6e" stroke-width="1.3"/>
<text x="263.2" y="311.5" text-anchor="end" class="tk">0</text>
<line x1="291.5" y1="323.3" x2="291.5" y2="327.8" stroke="#6e6e6e" stroke-width="1.3"/>
<text x="291.5" y="340.6" text-anchor="middle" class="tk">0</text>
<line x1="321" y1="323.3" x2="321" y2="327.8" stroke="#6e6e6e" stroke-width="1.3"/>
<text x="321" y="340.6" text-anchor="middle" class="tk">1.5</text>
<line x1="350.5" y1="323.3" x2="350.5" y2="327.8" stroke="#6e6e6e" stroke-width="1.3"/>
<text x="350.5" y="340.6" text-anchor="middle" class="tk">3</text>
<line x1="380" y1="323.3" x2="380" y2="327.8" stroke="#6e6e6e" stroke-width="1.3"/>
<text x="380" y="340.6" text-anchor="middle" class="tk">4.5</text>
<line x1="409.6" y1="323.3" x2="409.6" y2="327.8" stroke="#6e6e6e" stroke-width="1.3"/>
<text x="409.6" y="340.6" text-anchor="middle" class="tk">6</text>
<line x1="439.3" y1="323.3" x2="439.3" y2="327.8" stroke="#6e6e6e" stroke-width="1.3"/>
<text x="439.3" y="340.6" text-anchor="middle" class="tk">7.5</text>
<polyline points="291.4,307.5 293.6,283.5 301.6,281.8 309.3,274.6 316.9,252.4 324.9,266.2 332.8,262.7 340.7,259.0 348.9,246.3 356.6,238.5 364.6,251.8 372.6,261.4 380.2,264.9 388.4,270.1 396.4,270.4 404.3,277.3 412.5,274.1 420.4,276.1 428.4,271.9 429.9,307.6" fill="none" stroke="#cdbbe0" stroke-width="5.5" stroke-linejoin="round" clip-path="url(#clipd)"/>
<polyline points="291.4,307.5 293.6,283.5 301.6,281.8 309.3,274.6 316.9,252.4 324.9,266.2 332.8,262.7 340.7,259.0 348.9,246.3 356.6,238.5 364.6,251.8 372.6,261.4 380.2,264.9 388.4,270.1 396.4,270.4 404.3,277.3 412.5,274.1 420.4,276.1 428.4,271.9 429.9,307.6" fill="none" stroke="#1c1466" stroke-width="2.2" stroke-linejoin="round"/>
<circle cx="291.4" cy="307.5" r="2.5" fill="#1c1466"/>
<circle cx="293.6" cy="283.5" r="2.5" fill="#1c1466"/>
<circle cx="301.6" cy="281.8" r="2.5" fill="#1c1466"/>
<circle cx="309.3" cy="274.6" r="2.5" fill="#1c1466"/>
<circle cx="316.9" cy="252.4" r="2.5" fill="#1c1466"/>
<circle cx="324.9" cy="266.2" r="2.5" fill="#1c1466"/>
<circle cx="332.8" cy="262.7" r="2.5" fill="#1c1466"/>
<circle cx="340.7" cy="259.0" r="2.5" fill="#1c1466"/>
<circle cx="348.9" cy="246.3" r="2.5" fill="#1c1466"/>
<circle cx="356.6" cy="238.5" r="2.5" fill="#1c1466"/>
<circle cx="364.6" cy="251.8" r="2.5" fill="#1c1466"/>
<circle cx="372.6" cy="261.4" r="2.5" fill="#1c1466"/>
<circle cx="380.2" cy="264.9" r="2.5" fill="#1c1466"/>
<circle cx="388.4" cy="270.1" r="2.5" fill="#1c1466"/>
<circle cx="396.4" cy="270.4" r="2.5" fill="#1c1466"/>
<circle cx="404.3" cy="277.3" r="2.5" fill="#1c1466"/>
<circle cx="412.5" cy="274.1" r="2.5" fill="#1c1466"/>
<circle cx="420.4" cy="276.1" r="2.5" fill="#1c1466"/>
<circle cx="428.4" cy="271.9" r="2.5" fill="#1c1466"/>
<circle cx="429.9" cy="307.6" r="2.5" fill="#1c1466"/>
<text x="285.4" y="310.0" text-anchor="end" class="lb">b</text>
<text x="434.4" y="310.1" class="lb">b’</text>
<text x="312.7" y="247.3" class="pk" textLength="8.4" lengthAdjust="spacingAndGlyphs">TA</text>
<text x="350.5" y="233" class="pk" textLength="10" lengthAdjust="spacingAndGlyphs">CA</text>
<text x="8" y="340.7" class="pl">c</text>
<text x="246.6" y="340.7" class="pl">d</text>
<text x="251.3" y="355.6" text-anchor="middle" class="xt">Distance across the whole mount (mm)</text>
<text transform="translate(15.9,274) rotate(-90)" text-anchor="middle" class="xt">Neuron density</text>
<text transform="translate(27.9,272.7) rotate(-90)" text-anchor="middle" class="xt">(cells ×10<tspan dy="-3.5" font-size="7">2</tspan><tspan dy="3.5">)</tspan></text>
</svg>
</body></html>
